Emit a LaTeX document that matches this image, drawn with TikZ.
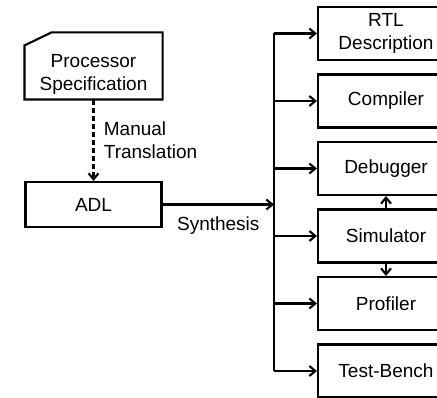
\documentclass[tikz,border=0pt]{standalone}
\usepackage{fontspec}
\setmainfont{Liberation Sans}
\usetikzlibrary{arrows.meta,calc}

\tikzset{
  block/.style={draw, minimum width=136pt, minimum height=53pt, inner sep=0pt, align=center},
}

\begin{document}
\begin{tikzpicture}[x=1pt,y=-1pt,line width=2.1pt,>={Straight Barb[length=6pt,width=10pt]},
    font=\fontsize{19}{23}\selectfont]
		\useasboundingbox (0,0) rectangle (437,398);
		% input side
		\node[minimum width=136pt, minimum height=65pt, inner sep=0pt] (spec) at (93.5,66) {};
		\draw (spec.south west) -- ($(spec.north west)+(0,13)$) -- ($(spec.north west)+(27,0)$)
		      -- (spec.north east) -- (spec.south east) -- cycle;
		\node[align=center] (spectext) at ($(spec.center)+(0,8)$) {Processor\\Specification};
		\node[block, minimum height=45pt] (adl) at (93.5,204.5) {ADL};
		\draw[->, dash pattern=on 5pt off 3pt] (spec) -- (adl) node[midway, right=6pt, align=left] {Manual\\Translation};
		% tools
		\foreach \name/\txt [count=\i from 0] in {rtl/{RTL\\Description}, cmp/Compiler, dbg/Debugger,
		    sim/Simulator, prof/Profiler, tb/Test-Bench} {
		  \node[block] (\name) at (386,{33.5+67.5*\i}) {\txt};
		  \coordinate (b\i) at (274,{33.5+67.5*\i});
		  \draw[->] (b\i) -- (\name);
		}
		\draw (b0) -- (b5);
		\draw[->] (adl) -- (adl -| b0) node[midway, below=8pt] {Synthesis};
		\draw[->] (sim) -- (dbg);
		\draw[->] (sim) -- (prof);
		\end{tikzpicture}
\end{document}
